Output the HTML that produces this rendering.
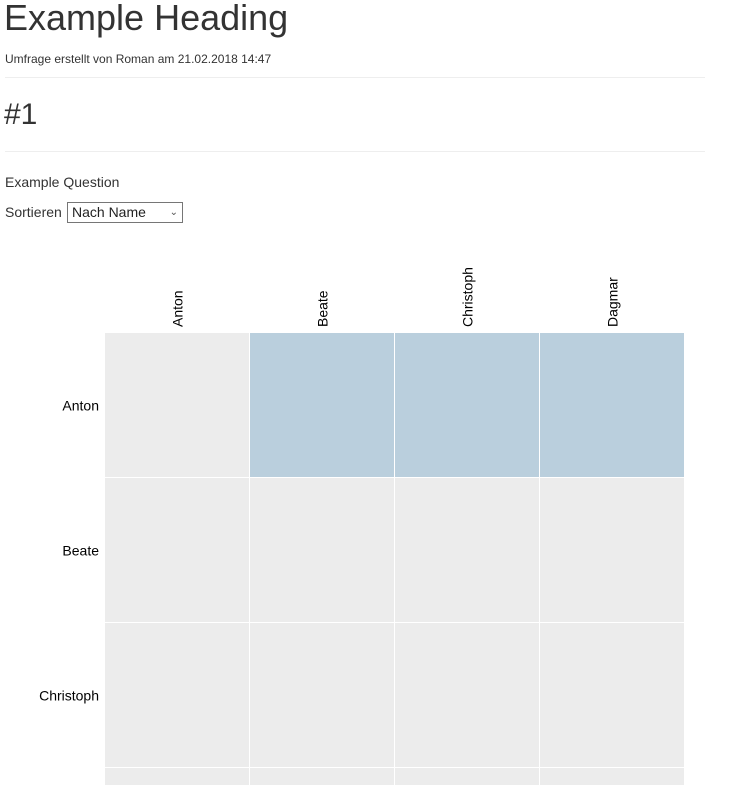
<!DOCTYPE html>
<html><head><meta charset="utf-8"><style>
html,body{margin:0;width:747px;height:785px;overflow:hidden}
body{background:#fff;font-family:"Liberation Sans",Arial,sans-serif;color:#333;position:relative}
.a{position:absolute;white-space:nowrap}
hr{position:absolute;left:5px;width:700px;margin:0;border:0;border-top:1px solid #eee}
</style></head><body>
<div class="a" style="left:4px;top:-3px;font-size:36px;line-height:42px">Example Heading</div>
<div class="a" style="left:5px;top:51px;font-size:12px;line-height:16px">Umfrage erstellt von Roman am 21.02.2018 14:47</div>
<hr style="top:77px">
<div class="a" style="left:4px;top:97px;font-size:30px;line-height:36px">#1</div>
<hr style="top:151px">
<div class="a" style="left:5px;top:174px;font-size:14px;line-height:16px">Example Question</div>
<div class="a" style="left:5px;top:204px;font-size:14px;line-height:16px">Sortieren</div>
<div class="a" style="left:67px;top:202px;width:114px;height:19px;border:1px solid #767676;font-size:14px;line-height:19px;color:#222"><span style="margin-left:4px">Nach Name</span><span style="position:absolute;right:4px;top:0;font-size:10px;color:#555">&#8964;</span></div>
<svg id="chart" width="747" height="785" style="position:absolute;left:0;top:0;display:block"></svg>
<script>
const rowNames=["Anton","Beate","Christoph","Dagmar"];
const colNames=["Anton","Beate","Christoph","Dagmar"];
const values=[[0,1,1,1],[0,0,0,0],[0,0,0,0],[0,0,0,0]];
const svg=document.getElementById('chart');
const NS='http://www.w3.org/2000/svg';
const x0=105,y0=333,cw=145,ch=145;
const xs=i=>x0+i*cw, ys=i=>y0+i*ch;
function col(v){return v>0?'#bacfdd':'#ececec';}
values.forEach((row,r)=>row.forEach((v,c)=>{
 const e=document.createElementNS(NS,'rect');
 
 
 e.setAttribute('x',xs(c));e.setAttribute('y',ys(r));
 e.setAttribute('width',cw-1);e.setAttribute('height',ch-1);
 e.setAttribute('fill',col(v));svg.appendChild(e);
}));
colNames.forEach((n,c)=>{
 const t=document.createElementNS(NS,'text');
 
 
 const cx=xs(c)+cw/2+5,cy=y0-6;
 t.setAttribute('x',cx);t.setAttribute('y',cy);
 t.setAttribute('transform','rotate(-90 '+cx+' '+cy+')');
 t.setAttribute('font-size','14');t.setAttribute('fill','#000');
 t.textContent=n;svg.appendChild(t);
});
rowNames.forEach((n,r)=>{
 const t=document.createElementNS(NS,'text');
 
 
 t.setAttribute('x',x0-6);t.setAttribute('y',ys(r)+ch/2+5);
 t.setAttribute('text-anchor','end');
 t.setAttribute('font-size','14');t.setAttribute('fill','#000');
 t.textContent=n;svg.appendChild(t);
});
</script>
</body></html>
